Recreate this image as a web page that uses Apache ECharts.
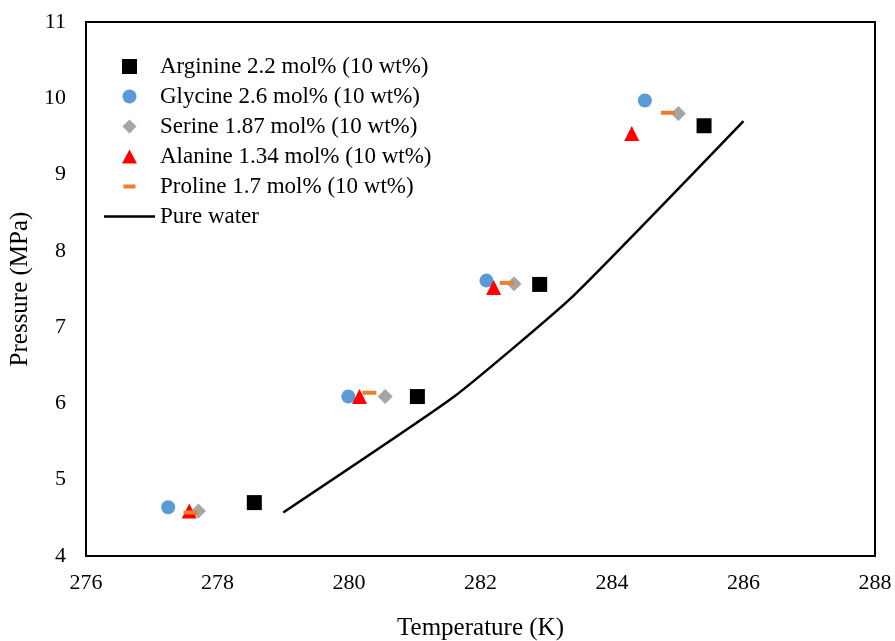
<!DOCTYPE html>
<html>
<head>
<meta charset="utf-8">
<title>Hydrate equilibrium pressure vs temperature</title>
<script src="https://cdn.jsdelivr.net/npm/echarts@6/dist/echarts.min.js"></script>
<style>
  html, body { margin: 0; padding: 0; background: #fff; }
  #chart { width: 895px; height: 641px; }
</style>
</head>
<body>
<div id="chart"></div>
<script>
// Equilibrium points: [temperature K, pressure MPa]
const arginine = [[278.56, 4.70], [281.04, 6.09], [282.90, 7.56], [285.40, 9.64]];
const glycine  = [[277.25, 4.64], [279.99, 6.09], [282.09, 7.61], [284.50, 9.97]];
const serine   = [[277.71, 4.59], [280.55, 6.09], [282.51, 7.57], [285.01, 9.80]];
const alanine  = [[277.57, 4.59], [280.16, 6.09], [282.20, 7.52], [284.30, 9.54]];
const proline  = [[277.59, 4.57], [280.31, 6.14], [282.40, 7.58], [284.85, 9.81]];
const pureWater = [[279.0, 4.57], [281.6, 6.09], [283.4, 7.40], [286.0, 9.70]];

const seriesNames = [
  'Arginine 2.2 mol% (10 wt%)',
  'Glycine 2.6 mol% (10 wt%)',
  'Serine 1.87 mol% (10 wt%)',
  'Alanine 1.34 mol% (10 wt%)',
  'Proline 1.7 mol% (10 wt%)',
  'Pure water'
];

const xTicks = { min: 276, max: 288, step: 2 };
const yTicks = { min: 4, max: 11, step: 1 };

const FONT = '"Liberation Serif", "Times New Roman", serif';

// Legend icons: zero-length moves widen the bounding box so each small
// marker keeps its own size inside the 51x15 legend item box.
const BOX = 'M0,0L0,0M51,15L51,15';
const legendIcons = {
  square:   'path://' + BOX + 'M18,0h15v15h-15z',
  circle:   'path://' + BOX + 'M32.5,7.5A7,7,0,1,1,18.5,7.5A7,7,0,1,1,32.5,7.5z',
  diamond:  'path://' + BOX + 'M25.5,0.5L32.5,7.5L25.5,14.5L18.5,7.5z',
  triangle: 'path://' + BOX + 'M25.5,0.5L33,14.5L18,14.5z',
  dash:     'path://' + BOX + 'M19.5,5.5h12v4h-12z',
  line:     'path://' + BOX + 'M0,6.25h51v2.5h-51z'
};

const chart = echarts.init(document.getElementById('chart'), null, { renderer: 'canvas' });

chart.setOption({
  backgroundColor: '#fff',
  animation: false,
  textStyle: { fontFamily: FONT, color: '#000' },
  grid: {
    left: 86, right: 20, top: 22, bottom: 85,
    containLabel: false, outerBoundsMode: 'none',
    show: true, borderColor: '#000', borderWidth: 2, backgroundColor: 'transparent'
  },
  legend: {
    orient: 'vertical',
    left: 104, top: 55, padding: 0,
    itemWidth: 51, itemHeight: 15,
    itemGap: 7,
    textStyle: { fontFamily: FONT, fontSize: 23, color: '#000' },
    data: [
      { name: seriesNames[0], icon: legendIcons.square },
      { name: seriesNames[1], icon: legendIcons.circle },
      { name: seriesNames[2], icon: legendIcons.diamond },
      { name: seriesNames[3], icon: legendIcons.triangle },
      { name: seriesNames[4], icon: legendIcons.dash },
      { name: seriesNames[5], icon: legendIcons.line, itemStyle: { color: '#000' } }
    ]
  },
  xAxis: {
    type: 'value',
    min: xTicks.min, max: xTicks.max, interval: xTicks.step,
    name: 'Temperature (K)', nameLocation: 'middle', nameGap: 60,
    nameTextStyle: { fontFamily: FONT, fontSize: 25, color: '#000' },
    axisLine: { show: true, lineStyle: { color: '#000', width: 2 } },
    axisTick: { show: false },
    splitLine: { show: false },
    axisLabel: { fontFamily: FONT, fontSize: 22, color: '#000', margin: 16 }
  },
  yAxis: {
    type: 'value',
    min: yTicks.min, max: yTicks.max, interval: yTicks.step,
    name: 'Pressure (MPa)', nameLocation: 'middle', nameGap: 45,
    nameTextStyle: { fontFamily: FONT, fontSize: 25, color: '#000' },
    axisLine: { show: true, lineStyle: { color: '#000', width: 2 } },
    axisTick: { show: false },
    splitLine: { show: false },
    axisLabel: { fontFamily: FONT, fontSize: 22, color: '#000', margin: 20 }
  },
  series: [
    {
      name: seriesNames[0], type: 'scatter', data: arginine,
      symbol: 'rect', symbolSize: 15, itemStyle: { color: '#000000', opacity: 1 }, z: 2
    },
    {
      name: seriesNames[1], type: 'scatter', data: glycine,
      symbol: 'circle', symbolSize: 14, itemStyle: { color: '#5B9BD5', opacity: 1 }, z: 3
    },
    {
      name: seriesNames[2], type: 'scatter', data: serine,
      symbol: 'diamond', symbolSize: 15, itemStyle: { color: '#A5A5A5', opacity: 1 }, z: 4
    },
    {
      name: seriesNames[3], type: 'scatter', data: alanine,
      symbol: 'triangle', symbolSize: 15, itemStyle: { color: '#FF0000', opacity: 1 }, z: 5
    },
    {
      name: seriesNames[4], type: 'scatter', data: proline,
      symbol: 'rect', symbolSize: [14, 4], itemStyle: { color: '#ED7D31', opacity: 1 }, z: 6
    },
    {
      name: seriesNames[5], type: 'line', data: pureWater,
      symbol: 'none', smooth: 0.15,
      lineStyle: { color: '#000', width: 2.5 }, itemStyle: { color: '#000' }, z: 7
    }
  ]
});
</script>
</body>
</html>
